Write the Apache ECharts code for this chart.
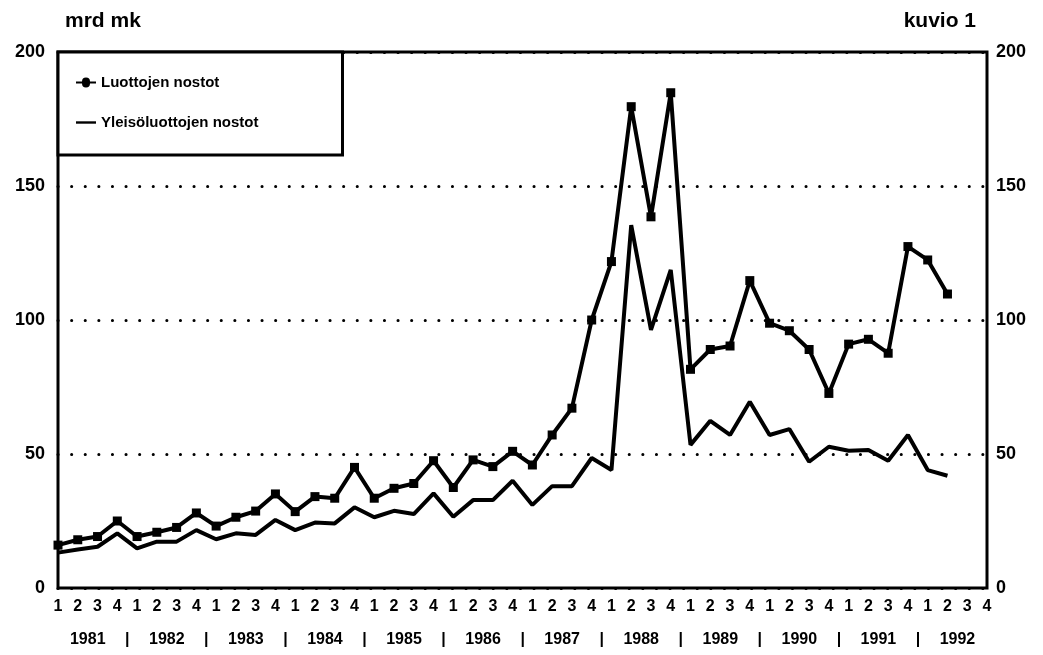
<!DOCTYPE html>
<html>
<head>
<meta charset="utf-8">
<script src="https://cdn.jsdelivr.net/npm/echarts@6/dist/echarts.min.js"></script>
<style>
  html, body { margin: 0; padding: 0; background: #fff; }
  #chart { width: 1043px; height: 655px; }
</style>
</head>
<body>
<div id="chart"></div>
<script>
// neljännekset 1981-1992
const years = ['1981', '1982', '1983', '1984', '1985', '1986', '1987', '1988', '1989', '1990', '1991', '1992']
const quarters = ['1', '2', '3', '4']

// mrd mk, 1981Q1 - 1992Q2
const luottojenNostot = [
  16.0, 18.0, 19.2, 25.0,
  19.2, 20.8, 22.6, 28.0,
  23.1, 26.4, 28.7, 35.1,
  28.5, 34.1, 33.5, 45.0,
  33.5, 37.2, 39.0, 47.5,
  37.5, 47.8, 45.3, 51.0,
  45.9, 57.1, 67.1, 100.0,
  121.8, 179.6, 138.5, 184.8,
  81.6, 89.0, 90.3, 114.7,
  98.8, 96.0, 89.0, 72.6,
  91.0, 92.8, 87.6, 127.4,
  122.4, 109.7
]
const yleisoluottojenNostot = [
  13.2, 14.4, 15.4, 20.4,
  14.8, 17.3, 17.3, 21.6,
  18.2, 20.4, 19.8, 25.4,
  21.6, 24.4, 24.1, 30.1,
  26.4, 28.8, 27.6, 35.3,
  26.6, 32.8, 32.8, 40.0,
  31.0, 38.0, 38.0, 48.5,
  44.0, 135.4, 96.3, 118.7,
  53.4, 62.4, 57.1, 69.5,
  57.1, 59.3, 47.1, 52.7,
  51.2, 51.5, 47.5, 57.1,
  44.0, 41.9
]

const font = '"Liberation Sans", Arial, sans-serif'

// x-akselin rivit: neljännes ja vuosi
const quarterCats = []
const yearCats = []
years.forEach((y, k) => {
  quarters.forEach((q, j) => {
    quarterCats.push(q)
    if (j === 1) yearCats.push(y)
    else if (j === 3 && k < years.length - 1) yearCats.push('|')
    else yearCats.push('')
  })
})

// legendan ikonit: viiva + pallo, pelkkä viiva
const iconDot = 'path://M0,0 L0,0 M0,4 L6,4 A4,4 0 0 1 14,4 L20,4 L20,6 L14,6 A4,4 0 0 1 6,6 L0,6 Z M0,10 L0,10'
const iconLine = 'path://M0,0 L0,0 M0,3.8 L20,3.8 L20,6.2 L0,6.2 Z M0,10 L0,10'

var myChart = echarts.init(document.getElementById('chart'))

var option = {
  animation: false,
  textStyle: { fontFamily: font },
  title: [
    {
      text: 'mrd mk',
      left: 60, top: 6,
      textStyle: { fontSize: 21, fontWeight: 'bold', color: '#000', fontFamily: font }
    },
    {
      text: 'kuvio 1',
      right: 62, top: 6,
      textStyle: { fontSize: 21, fontWeight: 'bold', color: '#000', fontFamily: font }
    }
  ],
  legend: {
    orient: 'vertical',
    left: 58, top: 52,
    padding: [23, 84, 25, 18],
    itemGap: 25,
    itemWidth: 20,
    itemHeight: 10,
    borderColor: '#000',
    borderWidth: 3,
    backgroundColor: '#fff',
    textStyle: { fontSize: 15, fontWeight: 'bold', color: '#000', fontFamily: font },
    data: [
      { name: 'Luottojen nostot', icon: iconDot },
      { name: 'Yleisöluottojen nostot', icon: iconLine }
    ]
  },
  grid: {
    left: 58, right: 56, top: 52, bottom: 67,
    show: true,
    borderColor: '#000',
    borderWidth: 3
  },
  xAxis: [
    {
      type: 'category',
      data: quarterCats,
      boundaryGap: false,
      axisLine: { show: false },
      axisTick: { show: false },
      axisLabel: { interval: 0, margin: 11, fontSize: 16, fontWeight: 'bold', color: '#000' }
    },
    {
      type: 'category',
      data: yearCats,
      position: 'bottom',
      offset: 34,
      boundaryGap: false,
      axisLine: { show: false },
      axisTick: { show: false },
      axisLabel: {
        interval: 0, margin: 10, fontSize: 16, fontWeight: 'bold', color: '#000',
        padding: [0, 0, 0, 20]
      }
    }
  ],
  yAxis: [
    {
      type: 'value',
      min: 0, max: 200, interval: 50,
      axisLine: { show: false },
      axisTick: { show: false },
      axisLabel: { margin: 13, fontSize: 18, fontWeight: 'bold', color: '#000' },
      splitLine: {
        lineStyle: { color: '#000', width: 3, type: [0.1, 13.5], cap: 'round' }
      }
    },
    {
      type: 'value',
      min: 0, max: 200, interval: 50,
      position: 'right',
      axisLine: { show: false },
      axisTick: { show: false },
      axisLabel: { margin: 9, fontSize: 18, fontWeight: 'bold', color: '#000' },
      splitLine: { show: false }
    }
  ],
  series: [
    {
      name: 'Luottojen nostot',
      type: 'line',
      data: luottojenNostot,
      symbol: 'rect',
      symbolSize: 9,
      showAllSymbol: true,
      itemStyle: { color: '#000' },
      lineStyle: { color: '#000', width: 4 },
      z: 5
    },
    {
      name: 'Yleisöluottojen nostot',
      type: 'line',
      data: yleisoluottojenNostot,
      symbol: 'none',
      itemStyle: { color: '#000' },
      lineStyle: { color: '#000', width: 4 },
      z: 4
    }
  ]
}

myChart.setOption(option)
</script>
</body>
</html>
